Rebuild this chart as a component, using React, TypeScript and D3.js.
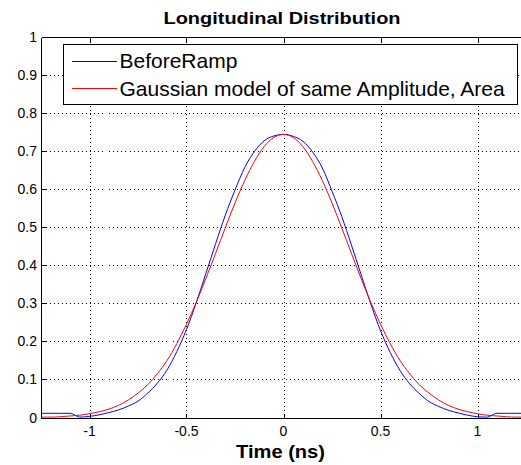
import React from "react";
import * as d3 from "d3";

// Sample times (ns)
const timeNs = [
  -1.25, -1.2, -1.15, -1.1, -1.05, -1.0, -0.95, -0.9, -0.85, -0.8, -0.75, -0.7, -0.65,
  -0.6, -0.55, -0.5, -0.45, -0.4, -0.35, -0.3, -0.25, -0.2, -0.15, -0.1, -0.05, 0,
  0.05, 0.1, 0.15, 0.2, 0.25, 0.3, 0.35, 0.4, 0.45, 0.5, 0.55, 0.6, 0.65, 0.7, 0.75,
  0.8, 0.85, 0.9, 0.95, 1.0, 1.05, 1.1, 1.15, 1.2, 1.25,
];

// Measured longitudinal profile before the ramp
const beforeRamp = [
  0.011, 0.011, 0.011, 0.011, 0.001, 0.003, 0.007, 0.013, 0.020, 0.030, 0.043, 0.064, 0.090,
  0.125, 0.173, 0.231, 0.301, 0.378, 0.456, 0.531, 0.597, 0.656, 0.698, 0.726, 0.739, 0.743,
  0.738, 0.725, 0.697, 0.655, 0.594, 0.528, 0.453, 0.375, 0.298, 0.228, 0.171, 0.124, 0.089,
  0.063, 0.042, 0.029, 0.019, 0.012, 0.006, 0.002, 0.001, 0.011, 0.011, 0.011, 0.011,
];

// Gaussian with the same amplitude and area
const gaussianModel = [
  0.001, 0.001, 0.002, 0.004, 0.006, 0.010, 0.015, 0.022, 0.032, 0.046, 0.064, 0.086, 0.115,
  0.150, 0.194, 0.245, 0.302, 0.365, 0.431, 0.498, 0.563, 0.622, 0.672, 0.711, 0.735, 0.743,
  0.735, 0.711, 0.672, 0.622, 0.563, 0.498, 0.431, 0.365, 0.302, 0.245, 0.194, 0.150, 0.115,
  0.086, 0.064, 0.046, 0.032, 0.022, 0.015, 0.010, 0.006, 0.004, 0.002, 0.001, 0.001,
];

const xTicks = [-1, -0.5, 0, 0.5, 1];
const xTickLabels = ["-1", "-0.5", "0", "0.5", "1"];
const yTicks = [0, 0.1, 0.2, 0.3, 0.4, 0.5, 0.6, 0.7, 0.8, 0.9, 1];
const yTickLabels = ["0", "0.1", "0.2", "0.3", "0.4", "0.5", "0.6", "0.7", "0.8", "0.9", "1"];
const seriesNames = ["BeforeRamp", "Gaussian model of same Amplitude, Area"];
const seriesColors = ["#0000ff", "#ff0000"];

const W = 521;
const H = 465;
const FONT = "'Liberation Sans', Arial, Helvetica, sans-serif";

export default function App() {
  const x = d3.scaleLinear().domain([-1.25, 1.25]).range([41, 526]);
  const y = d3.scaleLinear().domain([0, 1]).range([417.5, 36.5]);
  const px = (v: number) => Math.round(v) + 0.5;

  const left = px(x(-1.25));
  const right = x(1.25) + 10;
  const top = px(y(1));
  const bottom = px(y(0));

  const lineGen = d3
    .line<number>()
    .x((_, i) => x(timeNs[i]))
    .y((d) => y(d))
    .curve(d3.curveMonotoneX);

  const series = [beforeRamp, gaussianModel];

  return (
    <svg
      width={W}
      height={H}
      viewBox={`0 0 ${W} ${H}`}
      style={{ position: "fixed", left: 0, top: 0, background: "#fff" }}
    >
      <rect x={0} y={0} width={W} height={H} fill="#fff" />
      <defs>
        <clipPath id="plotArea">
          <rect x={left} y={top} width={right - left} height={bottom - top} />
        </clipPath>
      </defs>

      {/* grid */}
      <g stroke="#000" strokeWidth={1} strokeDasharray="1,3" shapeRendering="crispEdges">
        {xTicks.map((t) => (
          <line key={`gx${t}`} x1={px(x(t))} x2={px(x(t))} y1={top} y2={bottom} />
        ))}
        {yTicks
          .filter((t) => t > 0 && t < 1)
          .map((t) => (
            <line key={`gy${t}`} x1={left} x2={right} y1={px(y(t))} y2={px(y(t))} />
          ))}
      </g>

      {/* axes frame and ticks */}
      <g stroke="#000" strokeWidth={1} shapeRendering="crispEdges">
        <line x1={left} x2={left} y1={top} y2={bottom} />
        <line x1={left} x2={right} y1={top} y2={top} />
        <line x1={left} x2={right} y1={bottom} y2={bottom} />
        {xTicks.map((t) => (
          <g key={`tx${t}`}>
            <line x1={px(x(t))} x2={px(x(t))} y1={bottom} y2={bottom - 5} />
            <line x1={px(x(t))} x2={px(x(t))} y1={top} y2={top + 5} />
          </g>
        ))}
        {yTicks.map((t) => (
          <line key={`ty${t}`} x1={left} x2={left + 5} y1={px(y(t))} y2={px(y(t))} />
        ))}
      </g>

      {/* curves */}
      <g clipPath="url(#plotArea)" fill="none" strokeWidth={1}>
        {series.map((vals, i) => (
          <path key={seriesNames[i]} d={lineGen(vals) || ""} stroke={seriesColors[i]} />
        ))}
      </g>

      {/* tick labels */}
      <g fontFamily={FONT} fontSize={14} fill="#000">
        {xTicks.map((t, i) => (
          <text key={`lx${t}`} x={x(t)} y={436} textAnchor="middle">
            {xTickLabels[i]}
          </text>
        ))}
        {yTicks.map((t, i) => (
          <text key={`ly${t}`} x={37} y={y(t) + 5} textAnchor="end">
            {yTickLabels[i]}
          </text>
        ))}
      </g>

      {/* title and axis label */}
      <text
        x={282}
        y={24}
        textAnchor="middle"
        fontFamily={FONT}
        fontWeight="bold"
        fontSize={17}
        textLength={237}
        lengthAdjust="spacingAndGlyphs"
      >
        Longitudinal Distribution
      </text>
      <text
        x={280.5}
        y={458}
        textAnchor="middle"
        fontFamily={FONT}
        fontWeight="bold"
        fontSize={18.5}
        textLength={89}
        lengthAdjust="spacingAndGlyphs"
      >
        Time (ns)
      </text>

      {/* legend */}
      <g>
        <rect
          x={63.5}
          y={44.5}
          width={454}
          height={60}
          fill="#fff"
          stroke="#000"
          strokeWidth={1}
          shapeRendering="crispEdges"
        />
        {seriesNames.map((name, i) => {
          const ly = 60.5 + i * 27.5;
          return (
            <g key={`leg${i}`}>
              <line
                x1={72}
                x2={117}
                y1={Math.round(ly) + 0.5}
                y2={Math.round(ly) + 0.5}
                stroke={seriesColors[i]}
                strokeWidth={1}
              />
              <text x={119.5} y={ly + 7.5} fontFamily={FONT} fontSize={21} fill="#000">
                {name}
              </text>
            </g>
          );
        })}
      </g>
    </svg>
  );
}
